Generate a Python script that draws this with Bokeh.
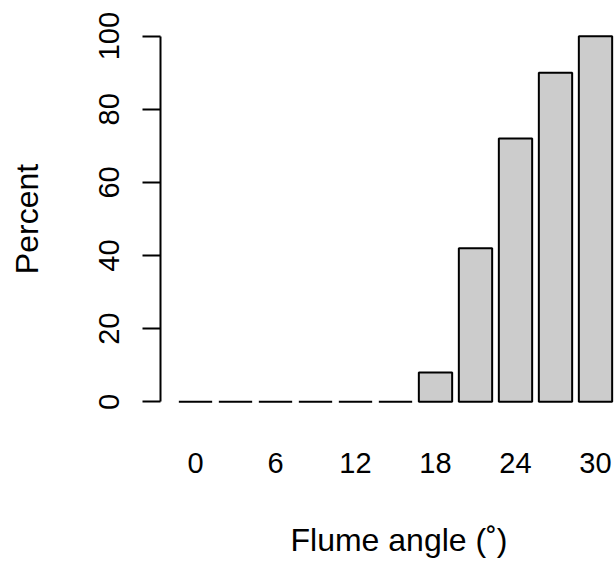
from bokeh.plotting import figure
from bokeh.models import Range1d, FixedTicker, Title, LinearAxis, ColumnDataSource
from bokeh.embed import file_html
from bokeh.resources import INLINE

angles = [0, 3, 6, 9, 12, 15, 18, 21, 24, 27, 30]
percent = [0, 0, 0, 0, 0, 0, 8, 42, 72, 90, 100]
shown_angle_labels = [0, 6, 12, 18, 24, 30]
y_ticks = [0, 20, 40, 60, 80, 100]

FONT = "Liberation Sans"
FS = "29px"
FST = "32px"

idx = list(range(len(angles)))
src = ColumnDataSource(dict(x=idx, top=percent, angle=angles))

p = figure(width=616, height=564, output_backend="svg", toolbar_location=None,
           x_range=Range1d(-0.875, 10.525), y_range=Range1d(-4, 104),
           min_border_left=160, min_border_right=0, min_border_top=21,
           min_border_bottom=148)
p.outline_line_color = None
p.grid.visible = False
p.background_fill_color = "white"
p.border_fill_color = "white"

p.vbar(x="x", top="top", bottom=0, width=0.833, source=src,
       fill_color="#CCCCCC", line_color="black", line_width=2)

# x axis: labels only
xt = [angles.index(a) for a in shown_angle_labels]
p.xaxis.ticker = FixedTicker(ticks=xt)
p.xaxis.major_label_overrides = {i: str(angles[i]) for i in xt}
p.xaxis.axis_line_color = None
p.xaxis.major_tick_line_color = None
p.xaxis.minor_tick_line_color = None
p.xaxis.major_tick_out = 0
p.xaxis.major_tick_in = 0
p.xaxis.major_label_standoff = 36
p.xaxis.major_label_text_font = FONT
p.xaxis.major_label_text_font_size = FS
p.xaxis.major_label_text_color = "black"

# invisible spacer between tick labels and x title (one hidden tick)
mid = len(angles) // 2
spacer = LinearAxis(ticker=FixedTicker(ticks=[mid]), axis_line_color=None,
                    major_tick_line_color=None, minor_tick_line_color=None,
                    major_tick_out=44, major_tick_in=0, minor_tick_out=0,
                    major_label_standoff=0,
                    major_label_overrides={mid: ""},
                    major_label_text_font_size="1px")
p.add_layout(spacer, "below")

# y axis
p.yaxis.ticker = FixedTicker(ticks=y_ticks)
p.yaxis.bounds = (0, 100)
p.yaxis.axis_line_width = 2
p.yaxis.axis_line_color = "black"
p.yaxis.major_tick_line_width = 2
p.yaxis.major_tick_line_color = "black"
p.yaxis.major_tick_out = 18
p.yaxis.major_tick_in = 0
p.yaxis.minor_tick_line_color = None
p.yaxis.major_label_orientation = "vertical"
p.yaxis.major_label_standoff = 23
p.yaxis.major_label_text_font = FONT
p.yaxis.major_label_text_font_size = FS
p.yaxis.major_label_text_color = "black"
p.yaxis.axis_label = "Percent"
p.yaxis.axis_label_text_font = FONT
p.yaxis.axis_label_text_font_size = FST
p.yaxis.axis_label_text_font_style = "normal"
p.yaxis.axis_label_text_color = "black"
p.yaxis.axis_label_standoff = 52

xt_title = Title(text="Flume angle (\u02da)", align="left", offset=130,
                 text_font=FONT, text_font_size=FST, text_font_style="normal",
                 text_color="black", standoff=0)
p.add_layout(xt_title, "below")

open("out.html", "w").write(file_html(p, INLINE))
